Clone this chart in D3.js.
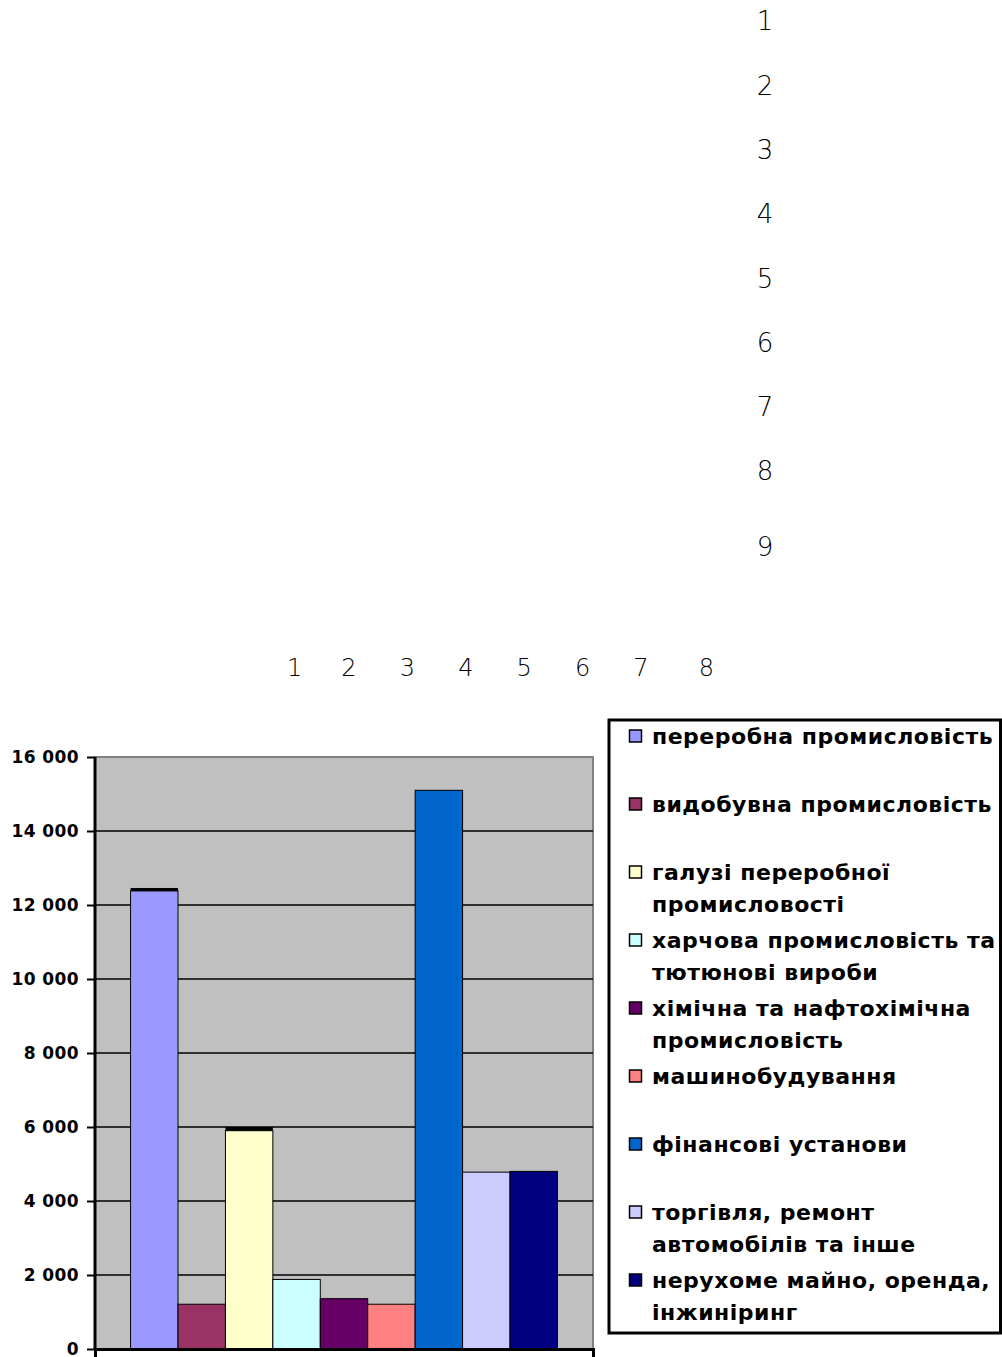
<!DOCTYPE html>
<html>
<head>
<meta charset="utf-8">
<script src="https://cdn.jsdelivr.net/npm/d3@7/dist/d3.min.js"></script>
<style>
  body { margin: 0; background: #fff; }
  svg { display: block; }
</style>
</head>
<body>
<script>
(function() {

    const width = 1002;
    const height = 1357;

    // legend labels (one array of lines per series)
    const sectors = [
        ["переробна промисловість"],
        ["видобувна промисловість"],
        ["галузі переробної", "промисловості"],
        ["харчова промисловість та", "тютюнові вироби"],
        ["хімічна та нафтохімічна", "промисловість"],
        ["машинобудування"],
        ["фінансові установи"],
        ["торгівля, ремонт", "автомобілів та інше"],
        ["нерухоме майно, оренда,", "інжиніринг"]
    ];
    // bar values
    const values = [12380, 1210, 5900, 1880, 1360, 1210, 15100, 4780, 4800];
    // thin dark segment on top of some bars
    const capValues = [80, 0, 100, 0, 0, 0, 0, 0, 0];
    const colors = ["#9999FF", "#993366", "#FFFFCC", "#CCFFFF", "#660066",
                    "#FF8080", "#0066CC", "#CCCCFF", "#000080"];
    const yTicks = [0, 2000, 4000, 6000, 8000, 10000, 12000, 14000, 16000];
    // stray numbers at the top of the sheet
    const rowNumbers = [1, 2, 3, 4, 5, 6, 7, 8, 9];
    const colNumbers = [1, 2, 3, 4, 5, 6, 7, 8];

    const plot = {left: 95, right: 593, top: 757, bottom: 1349};

    let svg = d3.select("body").append("svg")
        .attr("width", width)
        .attr("height", height);

    // --- stray numbers ---
    let rowY = d3.scaleLinear().domain([1, 8]).range([21, 471]);
    svg.append("g").selectAll("text")
        .data(rowNumbers)
        .enter()
        .append("text")
        .attr("x", 765)
        .attr("y", d => rowY(d) + (d === 9 ? 11 : 0))
        .attr("dy", "0.36em")
        .attr("text-anchor", "middle")
        .style("font-family", "'DejaVu Sans', sans-serif")
        .style("font-weight", 200)
        .style("font-size", "26px")
        .text(d => d);

    let colX = d3.scaleLinear().domain([2, 7]).range([349, 641]);
    svg.append("g").selectAll("text")
        .data(colNumbers)
        .enter()
        .append("text")
        .attr("x", d => colX(d) + (d === 8 ? 7 : d === 1 ? 4 : 0))
        .attr("y", 667)
        .attr("dy", "0.36em")
        .attr("text-anchor", "middle")
        .style("font-family", "'DejaVu Sans', sans-serif")
        .style("font-weight", 200)
        .style("font-size", "24px")
        .text(d => d);

    // --- scales ---
    let x = d3.scaleBand()
        .domain(d3.range(values.length))
        .range([plot.left, plot.right])
        .paddingInner(0)
        .paddingOuter(0.75);

    let y = d3.scaleLinear()
        .domain([0, 16000])
        .range([plot.bottom, plot.top]);

    // plot area
    svg.append("rect")
        .attr("x", plot.left)
        .attr("y", plot.top)
        .attr("width", plot.right - plot.left)
        .attr("height", plot.bottom - plot.top)
        .style("fill", "#C0C0C0")
        .style("stroke", "#808080")
        .style("stroke-width", 2);

    // gridlines
    svg.append("g").selectAll("line")
        .data(yTicks.filter(d => d > 0 && d < 16000))
        .enter()
        .append("line")
        .attr("x1", plot.left)
        .attr("x2", plot.right)
        .attr("y1", d => y(d))
        .attr("y2", d => y(d))
        .style("stroke", "#000")
        .style("stroke-width", 1.5);

    // bars
    let bars = svg.append("g");
    bars.selectAll("rect.bar")
        .data(values)
        .enter()
        .append("rect")
        .attr("class", "bar")
        .attr("x", (d, i) => x(i))
        .attr("y", d => y(d))
        .attr("width", x.bandwidth())
        .attr("height", d => y(0) - y(d))
        .style("fill", (d, i) => colors[i])
        .style("stroke", "#000")
        .style("stroke-width", 1);

    bars.selectAll("rect.cap")
        .data(capValues.map((v, i) => ({v: v, i: i})).filter(d => d.v > 0))
        .enter()
        .append("rect")
        .attr("class", "cap")
        .attr("x", d => x(d.i))
        .attr("y", d => y(values[d.i] + d.v))
        .attr("width", x.bandwidth())
        .attr("height", d => y(0) - y(d.v))
        .style("fill", "#000");

    // left axis
    let yAxis = d3.axisLeft(y)
        .tickValues(yTicks)
        .tickSize(8)
        .tickPadding(8)
        .tickFormat(d => d3.format(",")(d).replace(",", " "));

    let gy = svg.append("g")
        .attr("transform", "translate(" + plot.left + ",0)")
        .call(yAxis);
    gy.select(".domain").remove();
    gy.selectAll(".tick line").style("stroke", "#000").style("stroke-width", 2);
    gy.selectAll(".tick text")
        .attr("dy", "0.33em")
        .style("font-family", "'DejaVu Sans', sans-serif")
        .style("font-weight", "bold")
        .style("font-size", "17px")
        .style("letter-spacing", "0.4px")
        .style("fill", "#000");
    svg.append("line")
        .attr("x1", plot.left).attr("x2", plot.left)
        .attr("y1", plot.top).attr("y2", plot.bottom)
        .style("stroke", "#000").style("stroke-width", 3);

    // bottom axis
    let xAxis = d3.axisBottom(d3.scaleLinear().domain([0, 1]).range([plot.left, plot.right]))
        .tickValues([0, 1])
        .tickSize(8)
        .tickFormat("");
    let gx = svg.append("g")
        .attr("transform", "translate(0," + plot.bottom + ")")
        .call(xAxis);
    gx.select(".domain").style("stroke", "#000").style("stroke-width", 3);
    gx.selectAll(".tick line").style("stroke", "#000").style("stroke-width", 2);

    // --- legend ---
    svg.append("rect")
        .attr("x", 609)
        .attr("y", 720)
        .attr("width", 391.5)
        .attr("height", 613)
        .style("fill", "#fff")
        .style("stroke", "#000")
        .style("stroke-width", 3);

    let legY = d3.scaleLinear().domain([0, 8]).range([731, 1275]);
    let legend = svg.append("g").selectAll("g")
        .data(sectors)
        .enter()
        .append("g")
        .attr("transform", (d, i) => "translate(0," + legY(i) + ")");

    legend.append("rect")
        .attr("x", 629.5)
        .attr("y", -1)
        .attr("width", 12)
        .attr("height", 12)
        .style("fill", (d, i) => colors[i])
        .style("stroke", "#000")
        .style("stroke-width", 1.5);

    legend.selectAll("text")
        .data(d => d)
        .enter()
        .append("text")
        .attr("x", 652)
        .attr("y", (d, j) => 13 + j * 32)
        .style("font-family", "'DejaVu Sans', sans-serif")
        .style("font-weight", "bold")
        .style("font-size", "22px")
        .style("letter-spacing", "0.5px")
        .style("fill", "#000")
        .text(d => d)
        .each(function() {
            // keep long lines inside the legend box
            let len = this.getComputedTextLength();
            if (len > 345) d3.select(this).attr("textLength", 345).attr("lengthAdjust", "spacingAndGlyphs");
        });

})();
</script>
</body>
</html>
